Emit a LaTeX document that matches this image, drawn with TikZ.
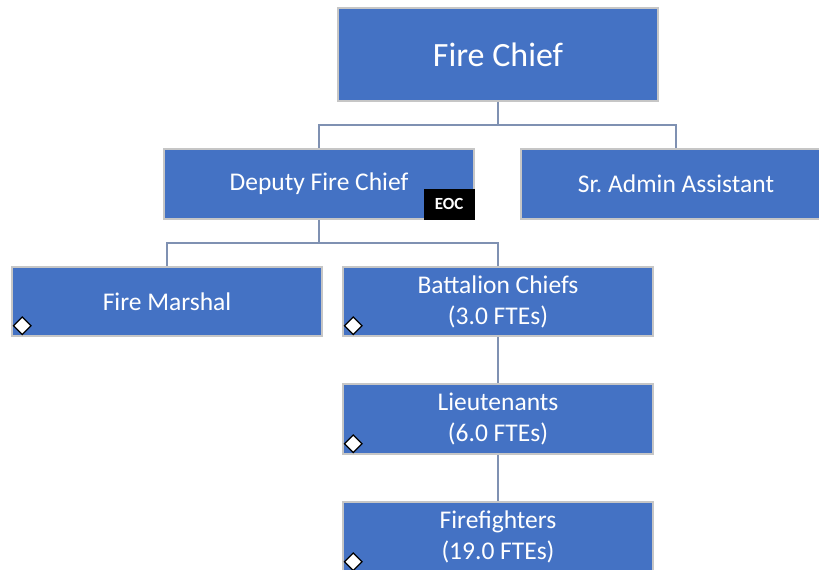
\documentclass[tikz,border=0pt]{standalone}
\usepackage{fontspec}
\setmainfont{Carlito}
\usetikzlibrary{shapes.geometric}
\definecolor{boxblue}{HTML}{4472C4}
\definecolor{boxedge}{HTML}{C6C6C6}
\definecolor{linkline}{HTML}{7F91B2}
\frenchspacing
\begin{document}
\begin{tikzpicture}[x=1bp,y=-1bp,
  orgbox/.style={rectangle, fill=boxblue, draw=boxedge, line width=1.5bp,
    text=white, align=center, inner sep=0pt,
    minimum width=310bp, minimum height=70bp,
    font=\fontsize{25.5bp}{31bp}\selectfont},
  link/.style={draw=linkline, line width=2.2bp},
  marker/.style={diamond, fill=white, draw=black, line width=1.2bp,
    inner sep=0pt, minimum width=18bp, minimum height=18bp},
  tagbox/.style={rectangle, fill=black, text=white, inner sep=0pt,
    minimum width=51bp, minimum height=31bp,
    font=\fontsize{17bp}{20bp}\selectfont\bfseries}]
\useasboundingbox (0,0) rectangle (819,570);
\clip (0,0) rectangle (819,570);

% junction points of the reporting lines
\coordinate (busA) at (498,125);
\coordinate (busB) at (319,243);

% positions
\node[orgbox, minimum width=320bp, minimum height=93bp,
  font=\fontsize{34bp}{40bp}\selectfont] (chief) at (498,54.5) {Fire Chief};
\node[orgbox] (deputy) at (319,184) {Deputy Fire Chief};
\node[orgbox] (admin) at (676,184) {Sr. Admin Assistant};
\node[orgbox, minimum height=69bp] (marshal) at (167,301.5) {Fire Marshal};
\node[orgbox, minimum height=69bp] (battalion) at (498,301.5) {Battalion Chiefs\\(3.0 FTEs)};
\node[orgbox] (lieut) at (498,419) {Lieutenants\\(6.0 FTEs)};
\node[orgbox] (fighters) at (498,537) {Firefighters\\(19.0 FTEs)};

% connectors
\draw[link] (chief.south) -- (busA) -| (deputy.north);
\draw[link] (busA) -| (admin.north);
\draw[link] (deputy.south) -- (busB) -| (marshal.north);
\draw[link] (busB) -| (battalion.north);
\draw[link] (battalion.south) -- (lieut.north);
\draw[link] (lieut.south) -- (fighters.north);

% badges
\node[tagbox, anchor=south east] (eoc) at (deputy.south east) {EOC};
\node[marker] (mkMarshal) at ([xshift=11bp,yshift=11bp]marshal.south west) {};
\node[marker] (mkBattalion) at ([xshift=11bp,yshift=11bp]battalion.south west) {};
\node[marker] (mkLieut) at ([xshift=11bp,yshift=11bp]lieut.south west) {};
\node[marker] (mkFighters) at ([xshift=11bp,yshift=11bp]fighters.south west) {};
\end{tikzpicture}
\end{document}
